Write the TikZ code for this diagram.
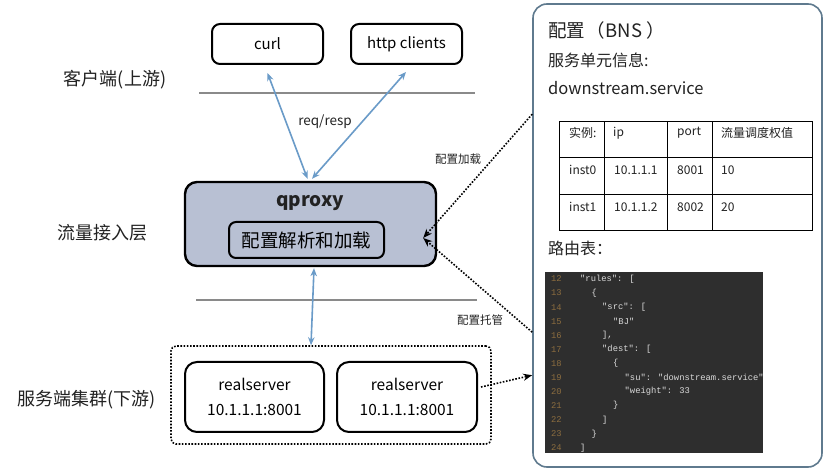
\documentclass[tikz,border=0pt]{standalone}
\usepackage{fontspec}
\setmainfont{Noto Sans CJK SC}
\newfontfamily\codefont{Liberation Mono}
\usetikzlibrary{arrows.meta,calc}
\definecolor{txt}{HTML}{222222}
\definecolor{arrblue}{HTML}{6A9BC8}
\definecolor{qfill}{HTML}{B8C0D3}
\definecolor{sepgray}{HTML}{8A8A8A}
\definecolor{panelc}{HTML}{5F7A8E}
\definecolor{codebg}{HTML}{2E2E2E}
\definecolor{codegray}{HTML}{DADADA}
\definecolor{numbrown}{HTML}{8C6D3F}
\begin{document}
\begin{tikzpicture}[x=1pt,y=-1pt,
  box/.style={draw=black, line width=2pt, rounded corners=8pt, fill=white, inner sep=0pt},
  lbl/.style={text=txt, font=\fontsize{18}{20}\selectfont, inner sep=0pt},
  small/.style={text=txt, font=\fontsize{11.5}{13}\selectfont, inner sep=0pt},
  cell/.style={text=txt, font=\fontsize{12}{14}\selectfont, anchor=west, inner sep=0pt},
  ptxt/.style={text=txt, anchor=west, inner sep=0pt},
  bluearrow/.style={draw=arrblue, line width=1.6pt, >={Stealth[length=8pt,width=6.5pt]}, <->},
  dotarrow/.style={draw=black, line width=1.6pt, dash pattern=on 1.6pt off 1.6pt, >={Stealth[length=9pt,width=7pt]}, ->},
  sepline/.style={draw=sepgray, line width=1.8pt},
  codeln/.style={anchor=west, text=codegray, font=\codefont\fontsize{8.8}{10}\selectfont, inner sep=0pt},
  lnum/.style={anchor=west, text=numbrown, font=\codefont\fontsize{8.8}{10}\selectfont, inner sep=0pt}
]
\useasboundingbox[fill=white] (0,0) rectangle (828,470);

% layer labels
\node[lbl] (lclient) at (115,80) {客户端(上游)};
\node[lbl] (laccess) at (102,233) {流量接入层};
\node[lbl] (lserver) at (87,400) {服务端集群(下游)};

% separators
\coordinate (s1a) at (199,93); \coordinate (s1b) at (475,93);
\coordinate (s2a) at (196,300); \coordinate (s2b) at (477,300);
\draw[sepline] (s1a) -- (s1b);
\draw[sepline] (s2a) -- (s2b);

% clients
\node[box, minimum width=111pt, minimum height=40pt, font=\fontsize{15}{17}\selectfont] (curl) at (267.5,44) {curl};
\node[box, minimum width=111pt, minimum height=40pt, font=\fontsize{15}{17}\selectfont] (http) at (406.5,44) {http clients};

% qproxy
\node[box, fill=qfill, line width=2.4pt, rounded corners=12pt, minimum width=251pt, minimum height=84pt] (qproxy) at (310.5,224) {};
\node[text=txt, font=\fontsize{19}{21}\selectfont\bfseries, inner sep=0pt] (qlabel) at (310,203) {qproxy};
\node[box, fill=qfill, rounded corners=7pt, minimum width=155pt, minimum height=36pt, font=\fontsize{18.5}{20}\selectfont] (inner) at (306.5,240) {配置解析和加载};

% server group
\node[draw=black, line width=1.6pt, dash pattern=on 1.6pt off 1.6pt, rounded corners=5pt, minimum width=320pt, minimum height=98pt] (group) at (331,395) {};
\node[box, rounded corners=12pt, minimum width=139pt, minimum height=70pt, align=center, font=\fontsize{15.5}{25}\selectfont] (rs1) at (254.5,397) {realserver\\10.1.1.1:8001};
\node[box, rounded corners=12pt, minimum width=140pt, minimum height=70pt, align=center, font=\fontsize{15.5}{25}\selectfont] (rs2) at (407,397) {realserver\\10.1.1.1:8001};

% blue arrows
\draw[bluearrow] ([yshift=-8pt]curl.south) -- ([xshift=-3pt,yshift=2pt]qproxy.north);
\draw[bluearrow] ([xshift=-0.5pt,yshift=-7pt]http.south) -- ([xshift=1.5pt,yshift=2pt]qproxy.north);
\draw[bluearrow] ([xshift=3.5pt,yshift=-1pt]qproxy.south) -- ([xshift=-20pt]group.north);
\node[text=txt, font=\fontsize{13.5}{15}\selectfont, inner sep=0pt] (reqresp) at (325,122) {req/resp};

% right panel
\node[draw=panelc, line width=1.6pt, rounded corners=14pt, minimum width=289pt, minimum height=463pt, inner sep=0pt] (panel) at (677.5,235.5) {};
\node[ptxt, font=\fontsize{18.5}{20}\selectfont] (ptitle) at (548,30) {配置\hspace{1pt}（\hspace{1pt}BNS\hspace{4pt}）};
\node[ptxt, font=\fontsize{16}{18}\selectfont] (pinfo) at (548,60) {服务单元信息:};
\node[ptxt, font=\fontsize{16.5}{18}\selectfont] (psvc) at (548,88) {downstream.service};
\node[ptxt, font=\fontsize{16}{18}\selectfont] (proute) at (548,248) {路由表：};

% table
\draw[black, line width=1pt] (559,122) rectangle (812,231);
\draw[black, line width=1pt] (559,158) -- (812,158) (559,195) -- (812,195)
  (604,122) -- (604,231) (667,122) -- (667,231) (712,122) -- (712,231);
\node[cell] (c11) at (569,133) {实例:};
\node[cell] (c12) at (613,133) {ip};
\node[cell] (c13) at (677,133) {port};
\node[cell] (c14) at (721,133) {流量调度权值};
\node[cell] (c21) at (569,170) {inst0};
\node[cell] (c22) at (614,170) {10.1.1.1};
\node[cell] (c23) at (677,170) {8001};
\node[cell] (c24) at (721,170) {10};
\node[cell] (c31) at (569,207) {inst1};
\node[cell] (c32) at (614,207) {10.1.1.2};
\node[cell] (c33) at (677,207) {8002};
\node[cell] (c34) at (721,207) {20};

% code block
\fill[codebg] (545,272) rectangle (763,453);
\node[lnum] (n12) at (551,279) {12};
\node[lnum] (n13) at (551,293.1) {13};
\node[lnum] (n14) at (551,307.2) {14};
\node[lnum] (n15) at (551,321.2) {15};
\node[lnum] (n16) at (551,335.3) {16};
\node[lnum] (n17) at (551,349.4) {17};
\node[lnum] (n18) at (551,363.5) {18};
\node[lnum] (n19) at (551,377.6) {19};
\node[lnum] (n20) at (551,391.6) {20};
\node[lnum] (n21) at (551,405.7) {21};
\node[lnum] (n22) at (551,419.8) {22};
\node[lnum] (n23) at (551,433.9) {23};
\node[lnum] (n24) at (551,448) {24};
\node[codeln] (l12) at (580,279) {"rules": [};
\node[codeln] (l13) at (591.5,293.1) {\{};
\node[codeln] (l14) at (602,307.2) {"src": [};
\node[codeln] (l15) at (613,321.2) {"BJ"};
\node[codeln] (l16) at (602,335.3) {],};
\node[codeln] (l17) at (602,349.4) {"dest": [};
\node[codeln] (l18) at (613,363.5) {\{};
\node[codeln] (l19) at (624.5,377.6) {"su": "downstream.service"};
\node[codeln] (l20) at (624.5,391.6) {"weight": 33};
\node[codeln] (l21) at (613,405.7) {\}};
\node[codeln] (l22) at (602,419.8) {]};
\node[codeln] (l23) at (591.5,433.9) {\}};
\node[codeln] (l24) at (580,448) {]};

% dotted connectors
\coordinate (cfg) at ([xshift=-14pt,yshift=-14pt]qproxy.east);
\coordinate (pload) at ([yshift=-111pt]panel.north west);
\coordinate (phost) at ([yshift=-329pt]panel.north west);
\coordinate (prs) at ([yshift=-372pt]panel.north west);
\draw[dotarrow] (pload) -- (cfg);
\draw[dotarrow] (phost) -- (cfg);
\draw[dotarrow] ([xshift=3pt,yshift=10pt]rs2.east) -- (prs);
\node[small] (tload) at (458,159) {配置加载};
\node[small] (thost) at (480,320) {配置托管};
\end{tikzpicture}
\end{document}
